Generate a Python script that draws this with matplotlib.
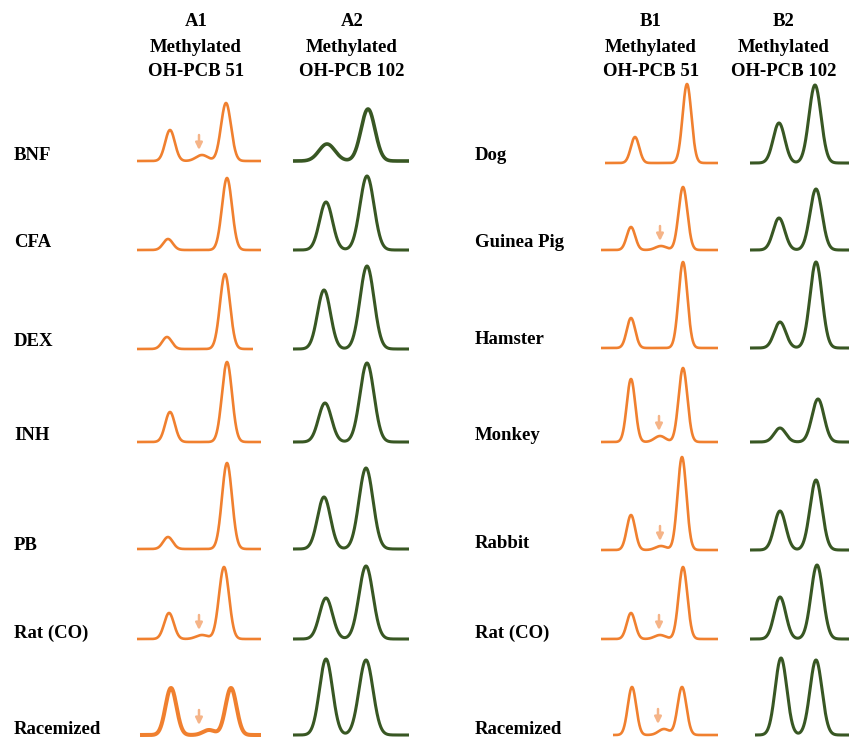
import numpy as np
import matplotlib
matplotlib.use("Agg")
import matplotlib.pyplot as plt

plt.rcParams['font.family'] = ['Liberation Serif', 'DejaVu Serif']

W, H = 849, 737
ORANGE = '#F0802F'
GREEN = '#385723'
ARROW = '#F5B488'

# ---- data: peak heights (relative response) and retention times (arbitrary min) ----
rows_a = ['BNF', 'CFA', 'DEX', 'INH', 'PB', 'Rat (CO)', 'Racemized']
rows_b = ['Dog', 'Guinea Pig', 'Hamster', 'Monkey', 'Rabbit', 'Rat (CO)', 'Racemized']

# A1: methylated OH-PCB 51
a1_p1 = [31, 11, 12, 30, 12, 26, 47]
a1_minor = [6, 0, 0, 0, 0, 4, 5]
a1_p2 = [58, 72, 75, 80, 86, 72, 47]
a1_t1 = [3.3, 3.1, 3.0, 3.3, 3.1, 3.2, 3.4]
a1_tm = [6.5, 0, 0, 0, 0, 6.5, 7.2]
a1_t2 = [8.9, 9.0, 8.8, 9.0, 9.0, 8.7, 9.4]

# A2: methylated OH-PCB 102
a2_p1 = [17, 48, 59, 39, 52, 41, 76]
a2_p2 = [52, 74, 83, 79, 81, 73, 75]
a2_t1 = [3.4, 3.3, 3.1, 3.2, 3.1, 3.3, 3.3]
a2_t2 = [7.5, 7.4, 7.4, 7.4, 7.3, 7.3, 7.3]

# B1: methylated OH-PCB 51
b1_p1 = [26, 23, 30, 63, 35, 26, 48]
b1_minor = [0, 4, 0, 6, 4, 4, 6]
b1_p2 = [79, 63, 86, 74, 93, 72, 48]
b1_t1 = [3.4, 3.0, 3.0, 3.0, 3.0, 3.0, 3.1]
b1_tm = [0, 6.0, 0, 5.9, 6.0, 5.9, 6.3]
b1_t2 = [8.6, 8.2, 8.2, 8.2, 8.1, 8.2, 8.1]

# B2: methylated OH-PCB 102
b2_p1 = [40, 32, 26, 14, 39, 42, 77]
b2_p2 = [78, 61, 86, 43, 70, 74, 75]
b2_t1 = [2.9, 2.9, 3.0, 3.0, 3.0, 3.0, 3.1]
b2_t2 = [6.5, 6.6, 6.6, 6.8, 6.6, 6.7, 6.6]

base_a = [161, 250, 349, 442, 549, 639, 735]
base_b = [163, 250, 348, 442, 550, 639, 735]
label_ya = [156, 243, 341, 436, 545, 633, 729]
label_yb = [156, 243, 340, 436, 544, 633, 730]

fig = plt.figure(figsize=(W / 100, H / 100), dpi=100)

PAD = 5


def trace(left, width, xmax, baseline, t0, t1, peaks, sig, color, lw, arrow_t=None, arrow_h=0):
    ax = fig.add_axes([left / W, (H - baseline - PAD) / H, width / W, 100 / H])
    t = np.linspace(t0, t1, 600)
    y = np.zeros_like(t)
    for (c, h), s in zip(peaks, sig):
        if h > 0:
            y += h * np.exp(-(t - c) ** 2 / (2 * s ** 2))
    ax.plot(t, y, color=color, lw=lw, solid_capstyle='butt', clip_on=False)
    if arrow_t is not None:
        ax.annotate('', xy=(arrow_t, arrow_h + 5), xytext=(arrow_t, arrow_h + 20),
                    arrowprops=dict(arrowstyle='-|>', color=ARROW, lw=1.8,
                                    mutation_scale=10, shrinkA=0, shrinkB=0))
    ax.set_xlim(0, xmax)
    ax.set_ylim(-PAD, 100 - PAD)
    ax.axis('off')
    return ax


for i in range(7):
    # A1
    t0 = 0.3 if i == 6 else 0.0
    t1 = 11.6 if i == 2 else 12.4
    arr = a1_tm[i] - (0.3 if i < 6 else 1.0) if a1_minor[i] else None
    trace(137, 125, 12.5, base_a[i], t0, t1,
          [(a1_t1[i], a1_p1[i]), (a1_tm[i], a1_minor[i]), (a1_t2[i], a1_p2[i])],
          [0.55 if i == 6 else 0.48, 0.6, 0.55 if i == 6 else 0.5],
          ORANGE, 2.9 if i == 6 else 1.9, arr, a1_minor[i])
    # A2
    trace(293, 116, 11.6, base_a[i], 0.0, 11.6,
          [(a2_t1[i], a2_p1[i]), (a2_t2[i], a2_p2[i])],
          [0.8 if i == 0 else 0.65, 0.7],
          GREEN, 2.6 if i == 0 else 2.2)
    # B1
    t0 = 0.4 if i == 0 else (1.2 if i == 6 else 0.0)
    arr = b1_tm[i] - (0.1 if i < 6 else 0.6) if b1_minor[i] else None
    trace(601, 117, 11.7, base_b[i], t0, 11.7,
          [(b1_t1[i], b1_p1[i]), (b1_tm[i], b1_minor[i]), (b1_t2[i], b1_p2[i])],
          [0.42, 0.55, 0.44],
          ORANGE, 1.9, arr, b1_minor[i])
    # B2
    t0 = 0.5 if i == 6 else 0.0
    trace(750, 110, 11.0, base_b[i], t0, 11.0,
          [(b2_t1[i], b2_p1[i]), (b2_t2[i], b2_p2[i])],
          [0.58, 0.6],
          GREEN, 2.2)

# row labels
for lab, y in zip(rows_a, label_ya):
    fig.text(14 / W, 1 - y / H, lab, fontsize=13.5, fontweight='bold', va='center', ha='left')
for lab, y in zip(rows_b, label_yb):
    fig.text(475 / W, 1 - y / H, lab, fontsize=13.5, fontweight='bold', va='center', ha='left')

# column headers
headers = [('A1', 'OH-PCB 51', 196), ('A2', 'OH-PCB 102', 352),
           ('B1', 'OH-PCB 51', 651), ('B2', 'OH-PCB 102', 784)]
for code, cmpd, xc in headers:
    for txt, y in zip([code, 'Methylated', cmpd], [22, 47, 72]):
        fig.text(xc / W, 1 - y / H, txt, fontsize=13.5, fontweight='bold',
                 ha='center', va='center')

fig.savefig('out.png', dpi=100, facecolor='white')
